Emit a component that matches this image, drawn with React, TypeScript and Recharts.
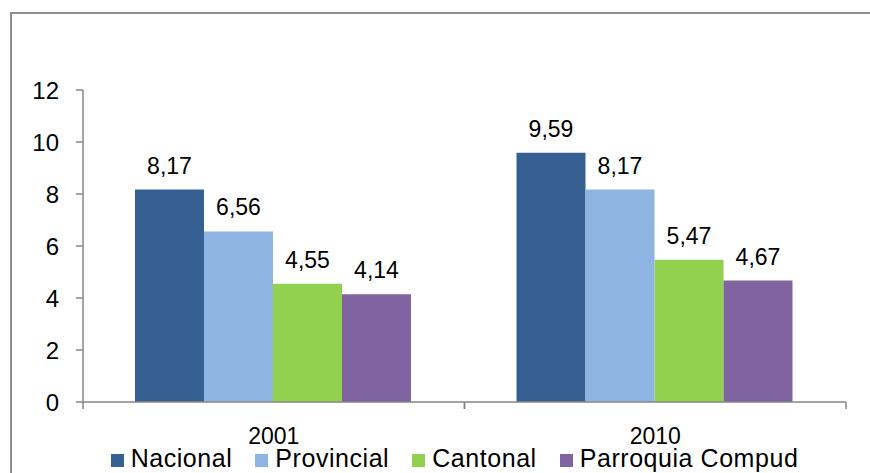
import React from 'react';
import { BarChart, Bar, XAxis, YAxis, Legend, LabelList } from 'recharts';

const categories = ['2001', '2010'];
const nacional = [8.17, 9.59];
const provincial = [6.56, 8.17];
const cantonal = [4.55, 5.47];
const parroquia = [4.14, 4.67];
const yTicks = [0, 2, 4, 6, 8, 10, 12];
const seriesOrder = ['nacional', 'provincial', 'cantonal', 'parroquia'];

const data = categories.map((c, i) => ({
  name: c,
  nacional: nacional[i],
  provincial: provincial[i],
  cantonal: cantonal[i],
  parroquia: parroquia[i],
}));

const AXIS = '#868686';
const FONT = '"Liberation Sans", Arial, sans-serif';

const fmt = (v: any) => (typeof v === 'number' ? v.toFixed(2).replace('.', ',') : v);

const XTick = (props: any) => {
  const { x, y, payload } = props;
  const half = payload && typeof payload.offset === 'number' ? payload.offset : 190.75;
  return (
    <g>
      <line x1={x - half} x2={x - half} y1={y} y2={y + 7} stroke={AXIS} strokeWidth={1.5} />
      <line x1={x + half} x2={x + half} y1={y} y2={y + 7} stroke={AXIS} strokeWidth={1.5} />
      <text x={x} y={y + 42} textAnchor="middle" fontSize={23} fill="#000" fontFamily={FONT}>
        {payload.value}
      </text>
    </g>
  );
};

const labelProps = {
  position: 'top' as const,
  offset: 16,
  formatter: fmt,
  fill: '#000',
  fontSize: 23,
  fontFamily: FONT,
};

export default function App() {
  return (
    <div style={{ position: 'relative', width: 870, height: 473, overflow: 'hidden', fontFamily: FONT, background: '#fff' }}>
      <style>{'html,body{margin:0;padding:0;overflow:hidden;background:#fff;}'}</style>
      <div style={{ position: 'absolute', left: 10, top: 12, width: 860, height: 2, background: '#8f8f8f' }} />
      <div style={{ position: 'absolute', left: 10, top: 12, width: 2, height: 461, background: '#8f8f8f' }} />
      <div style={{ position: 'absolute', left: 0, top: 0 }}>
        <BarChart
          width={870}
          height={473}
          data={data}
          margin={{ top: 90, right: 24, left: 0, bottom: 41 }}
          barCategoryGap="13.63%"
          barGap={0}
        >
          <XAxis
            dataKey="name"
            height={30}
            axisLine={{ stroke: AXIS, strokeWidth: 1.5 }}
            tickLine={false}
            tickSize={0}
            tickMargin={0}
            tick={<XTick />}
            interval={0}
          />
          <YAxis
            width={83}
            domain={[0, 12]}
            ticks={yTicks}
            interval={0}
            axisLine={{ stroke: AXIS, strokeWidth: 1.5 }}
            tickLine={{ stroke: AXIS, strokeWidth: 1.5 }}
            tickSize={7}
            tickMargin={17}
            tick={{ fill: '#000', fontSize: 24, fontFamily: FONT }}
          />
          <Legend
            layout="horizontal"
            verticalAlign="middle"
            align="center"
            iconType="square"
            iconSize={13}
            itemSorter={(item: any) => seriesOrder.indexOf(item.dataKey)}
            wrapperStyle={{
              top: 444,
              left: 86,
              width: 760,
              height: 29,
              fontSize: 25,
              lineHeight: '28px',
              letterSpacing: '0.55px',
            }}
            formatter={(value: any) => (
              <span style={{ color: '#000', marginLeft: 3, marginRight: 13 }}>{value}</span>
            )}
          />
          <Bar dataKey="nacional" name="Nacional" fill="#376092" isAnimationActive={false}>
            <LabelList dataKey="nacional" {...labelProps} />
          </Bar>
          <Bar dataKey="provincial" name="Provincial" fill="#8EB4E3" isAnimationActive={false}>
            <LabelList dataKey="provincial" {...labelProps} />
          </Bar>
          <Bar dataKey="cantonal" name="Cantonal" fill="#92D050" isAnimationActive={false}>
            <LabelList dataKey="cantonal" {...labelProps} />
          </Bar>
          <Bar dataKey="parroquia" name="Parroquia Compud" fill="#8064A2" isAnimationActive={false}>
            <LabelList dataKey="parroquia" {...labelProps} />
          </Bar>
        </BarChart>
      </div>
    </div>
  );
}
